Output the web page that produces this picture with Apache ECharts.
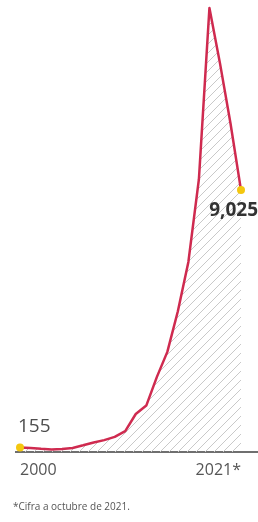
<!DOCTYPE html>
<html>
<head>
<meta charset="utf-8">
<script src="https://cdn.jsdelivr.net/npm/echarts@6/dist/echarts.min.js"></script>
<style>
  html, body { margin: 0; padding: 0; background: #fff; }
  #chart { width: 258px; height: 522px; }
</style>
</head>
<body>
<div id="chart"></div>
<script>
// años (eje x) y valores
const years = ['2000', '2001', '2002', '2003', '2004', '2005', '2006', '2007', '2008', '2009', '2010',
  '2011', '2012', '2013', '2014', '2015', '2016', '2017', '2018', '2019', '2020', '2021*'];
const values = [155, 140, 110, 90, 100, 140, 230, 330, 410, 520, 720,
  1310, 1600, 2580, 3450, 4850, 6550, 9400, 15300, 13400, 11330, 9025];
const footnote = '*Cifra a octubre de 2021.';

// trama diagonal para el area
function hatch() {
  const c = document.createElement('canvas');
  c.width = 9; c.height = 9;
  const g = c.getContext('2d');
  g.strokeStyle = '#c9c9c9';
  g.lineWidth = 1;
  g.beginPath();
  g.moveTo(0, 9); g.lineTo(9, 0);
  g.moveTo(-1, 1); g.lineTo(1, -1);
  g.moveTo(8, 10); g.lineTo(10, 8);
  g.stroke();
  return c;
}

const yellow = '#f4c70f';
const last = values.length - 1;

const seriesData = values.map((v, i) => {
  if (i === 0) {
    return {
      value: v, symbol: 'circle', symbolSize: 8,
      label: {
        show: true, position: 'top', align: 'left', offset: [-2, -2],
        fontFamily: 'Open Sans', fontSize: 19, color: '#4d4d4d',
        formatter: (p) => p.value.toLocaleString('en-US'),
      },
    };
  }
  if (i === last) {
    return {
      value: v, symbol: 'circle', symbolSize: 8,
      label: {
        show: true, position: 'bottom', align: 'right', offset: [17, 2],
        fontFamily: 'Open Sans', fontSize: 19, fontWeight: 'bold', color: '#333',
        formatter: (p) => p.value.toLocaleString('en-US'),
      },
    };
  }
  return { value: v, symbol: 'none' };
});

const chart = echarts.init(document.getElementById('chart'));
chart.setOption({
  animation: false,
  grid: { left: 20, right: 17, top: 8, bottom: 70 },
  xAxis: {
    type: 'category',
    boundaryGap: false,
    data: years,
    axisLine: { show: false },
    axisTick: { show: false },
    axisLabel: {
      interval: 20,
      alignMinLabel: 'left',
      alignMaxLabel: 'right',
      margin: 10,
      fontFamily: 'Open Sans',
      fontSize: 16,
      color: '#555',
    },
  },
  yAxis: {
    type: 'value',
    min: 0,
    max: 15300,
    show: false,
    splitLine: { show: false },
  },
  series: [
    {
      type: 'line',
      data: seriesData,
      symbol: 'none',
      showAllSymbol: true,
      clip: false,
      itemStyle: { color: yellow },
      lineStyle: { color: '#cf2a4f', width: 2.5, join: 'round' },
      areaStyle: { color: { image: hatch(), repeat: 'repeat' }, opacity: 1 },
      z: 3,
    },
  ],
  graphic: [
    {
      type: 'line',
      shape: { x1: 15, y1: 452, x2: 258, y2: 452 },
      style: { stroke: '#6f6f6f', lineWidth: 2 },
      z: 2,
    },
    {
      type: 'text',
      left: 13,
      top: 502,
      style: { text: footnote, font: '10px "Open Sans"', fill: '#555' },
    },
  ],
});
</script>
</body>
</html>
